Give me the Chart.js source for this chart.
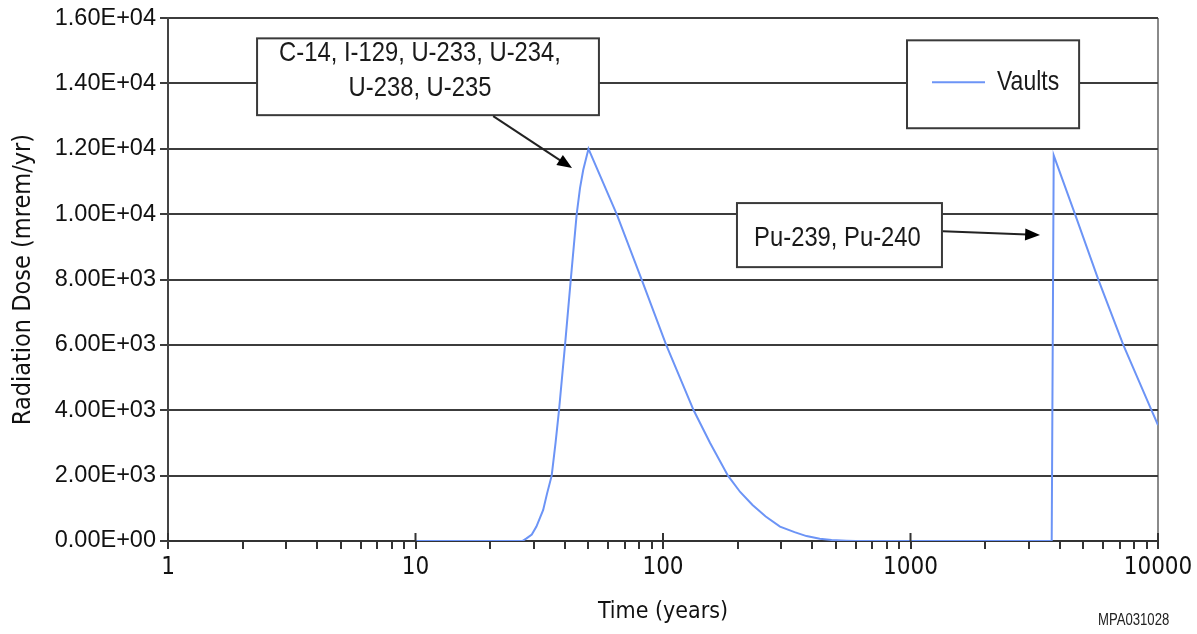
<!DOCTYPE html>
<html>
<head>
<meta charset="utf-8">
<script src="https://cdn.jsdelivr.net/npm/chart.js@4.4.1/dist/chart.umd.min.js"></script>
<style>
  html, body { margin: 0; padding: 0; background: #fff; }
  #wrap { width: 1197px; height: 634px; position: relative; }
</style>
</head>
<body>
<div id="wrap"><canvas id="chart"></canvas></div>
<script>
const timeYears = [10, 20, 27, 28.1, 29.5, 30.8, 32.8, 34, 35.5, 36.8, 38, 40.2, 42.4, 44.8, 46.2, 47.6, 50,
    65, 82, 103, 133, 155, 183, 205, 230, 260, 297, 340, 380, 430, 480, 550, 600, 1000, 2000, 3720,
    3790, 4620, 5740, 7240, 9420, 10000];
const doseVaults = [0, 0, 0, 80, 200, 440, 950, 1450, 2000, 3000, 4000, 6000, 8000, 10000, 10800, 11350, 12000,
    10000, 8000, 6000, 4000, 3000, 2000, 1500, 1100, 750, 440, 270, 150, 70, 30, 8, 0, 0, 0, 0,
    11800, 10000, 8000, 6000, 4000, 3550];
const seriesName = 'Vaults';
const yTicks = [0, 2000, 4000, 6000, 8000, 10000, 12000, 14000, 16000];
const xDecades = [1, 10, 100, 1000, 10000];

// callouts, anchored in data units (years, mrem/yr): box = [x0, yTop, x1, yBottom]
const callouts = [
    { lines: ['C-14, I-129, U-233, U-234,', 'U-238, U-235'], box: [2.29, 15380, 55.1, 13030], tail: [20.6, 13000], tip: [42.9, 11410], dx: -8, dy: -6 },
    { lines: ['Pu-239, Pu-240'], box: [199, 10340, 1340, 8380], tail: [1352, 9480], tip: [3336, 9360], dx: -2, dy: 3 },
];
const legendBox = [968, 15320, 4800, 12630];

const cond = '"DejaVu Sans Condensed", "Liberation Sans", sans-serif';
const sans = '"Liberation Sans", Arial, sans-serif';
const lineColor = 'rgb(108, 148, 246)';

const sci = (v) => {
    if (v === 0) return '0.00E+00';
    const e = Math.floor(Math.log10(v));
    const m = v / Math.pow(10, e);
    return m.toFixed(2) + 'E' + (e < 0 ? '-' : '+') + String(Math.abs(e)).padStart(2, '0');
};

// squeezed text, to look like a condensed face
const narrowText = (ctx, text, x, y, size, sx, align) => {
    ctx.save();
    ctx.font = size + 'px ' + sans;
    ctx.textBaseline = 'middle';
    ctx.textAlign = align;
    ctx.translate(x, y);
    ctx.scale(sx, 1);
    ctx.fillText(text, 0, 0);
    ctx.restore();
};

const calloutPlugin = {
    id: 'callouts',
    afterDatasetsDraw(chart) {
        const { ctx, scales: { x, y }, chartArea } = chart;
        ctx.save();

        // longer decade ticks crossing the axis
        ctx.strokeStyle = '#333';
        ctx.lineWidth = 2;
        xDecades.forEach(d => {
            const px = x.getPixelForValue(d);
            ctx.beginPath();
            ctx.moveTo(px, chartArea.bottom - 8);
            ctx.lineTo(px, chartArea.bottom);
            ctx.stroke();
        });

        callouts.forEach(c => {
            const x0 = x.getPixelForValue(c.box[0]), y0 = y.getPixelForValue(c.box[1]);
            const x1 = x.getPixelForValue(c.box[2]), y1 = y.getPixelForValue(c.box[3]);
            ctx.fillStyle = '#fff';
            ctx.fillRect(x0, y0, x1 - x0, y1 - y0);
            ctx.strokeStyle = '#3a3a3a';
            ctx.lineWidth = 2;
            ctx.strokeRect(x0, y0, x1 - x0, y1 - y0);

            ctx.fillStyle = '#1a1a1a';
            const cx = (x0 + x1) / 2 + c.dx, cy = (y0 + y1) / 2 + c.dy;
            const lh = 35;
            c.lines.forEach((t, i) => {
                narrowText(ctx, t, cx, cy + (i - (c.lines.length - 1) / 2) * lh, 28, 0.85, 'center');
            });

            // arrow
            const tx = x.getPixelForValue(c.tail[0]), ty = y.getPixelForValue(c.tail[1]);
            const hx = x.getPixelForValue(c.tip[0]), hy = y.getPixelForValue(c.tip[1]);
            const ang = Math.atan2(hy - ty, hx - tx);
            const head = 16;
            ctx.strokeStyle = '#222';
            ctx.lineWidth = 2;
            ctx.beginPath();
            ctx.moveTo(tx, ty);
            ctx.lineTo(hx - Math.cos(ang) * head * 0.8, hy - Math.sin(ang) * head * 0.8);
            ctx.stroke();
            ctx.fillStyle = '#000';
            ctx.beginPath();
            ctx.moveTo(hx, hy);
            ctx.lineTo(hx - head * Math.cos(ang - 0.38), hy - head * Math.sin(ang - 0.38));
            ctx.lineTo(hx - head * Math.cos(ang + 0.38), hy - head * Math.sin(ang + 0.38));
            ctx.closePath();
            ctx.fill();
        });

        // legend box
        const lx0 = x.getPixelForValue(legendBox[0]), lx1 = x.getPixelForValue(legendBox[2]);
        const ly0 = y.getPixelForValue(legendBox[1]), ly1 = y.getPixelForValue(legendBox[3]);
        ctx.fillStyle = '#fff';
        ctx.fillRect(lx0, ly0, lx1 - lx0, ly1 - ly0);
        ctx.strokeStyle = '#3a3a3a';
        ctx.lineWidth = 2;
        ctx.strokeRect(lx0, ly0, lx1 - lx0, ly1 - ly0);
        const ly = (ly0 + ly1) / 2 - 2;
        ctx.strokeStyle = lineColor;
        ctx.lineWidth = 2;
        ctx.beginPath();
        ctx.moveTo(lx0 + 25, ly);
        ctx.lineTo(lx0 + 78, ly);
        ctx.stroke();
        ctx.fillStyle = '#1a1a1a';
        narrowText(ctx, chart.data.datasets[0].label, lx0 + 90, ly, 28, 0.82, 'left');

        // figure id
        ctx.fillStyle = '#222';
        narrowText(ctx, 'MPA031028', 1098, 621, 16, 0.82, 'left');
        ctx.restore();
    }
};

new Chart(document.getElementById('chart'), {
    type: 'line',
    data: {
        datasets: [{
            label: seriesName,
            data: timeYears.map((t, i) => ({ x: t, y: doseVaults[i] })),
            borderColor: lineColor,
            borderWidth: 2,
            pointRadius: 0,
            fill: false,
            tension: 0,
        }]
    },
    options: {
        responsive: true,
        maintainAspectRatio: false,
        animation: false,
        layout: { padding: { top: 18, right: 39, bottom: 0, left: 0 } },
        plugins: {
            legend: { display: false },
            tooltip: { enabled: false },
        },
        scales: {
            x: {
                type: 'logarithmic',
                min: 1,
                max: 10000,
                afterBuildTicks: (scale) => {
                    const t = [];
                    for (let d = 1; d < 10000; d *= 10) {
                        for (let m = 1; m < 10; m++) t.push({ value: m * d });
                    }
                    t.push({ value: 10000 });
                    scale.ticks = t;
                },
                afterFit: (scale) => { scale.height = 93; },
                ticks: {
                    autoSkip: false,
                    maxRotation: 0,
                    padding: 4,
                    color: '#111',
                    font: { family: cond, size: 24 },
                    callback: (v) => xDecades.includes(v) ? String(v) : '',
                },
                grid: {
                    drawOnChartArea: true,
                    color: (c) => (c.tick && c.tick.value === 10000) ? '#8a8a8a' : 'rgba(0,0,0,0)',
                    tickColor: '#333',
                    tickLength: 8,
                    lineWidth: 2,
                },
                border: { color: '#333', width: 2 },
                title: {
                    display: true,
                    text: 'Time (years)',
                    color: '#111',
                    font: { family: cond, size: 23 },
                    padding: { top: 4, bottom: 8 },
                },
            },
            y: {
                min: 0,
                max: 16000,
                afterBuildTicks: (scale) => { scale.ticks = yTicks.map(v => ({ value: v })); },
                afterFit: (scale) => { scale.width = 168; },
                ticks: {
                    padding: 4,
                    color: '#111',
                    font: { family: sans, size: 23.5 },
                    callback: (v) => sci(v),
                },
                grid: {
                    color: '#3c3c3c',
                    lineWidth: 2,
                    tickLength: 8,
                },
                border: { color: '#444', width: 2 },
                title: {
                    display: true,
                    text: 'Radiation Dose (mrem/yr)',
                    color: '#111',
                    font: { family: cond, size: 25 },
                    padding: { top: 8, bottom: 0 },
                },
            },
        },
    },
    plugins: [calloutPlugin],
});
</script>
</body>
</html>
